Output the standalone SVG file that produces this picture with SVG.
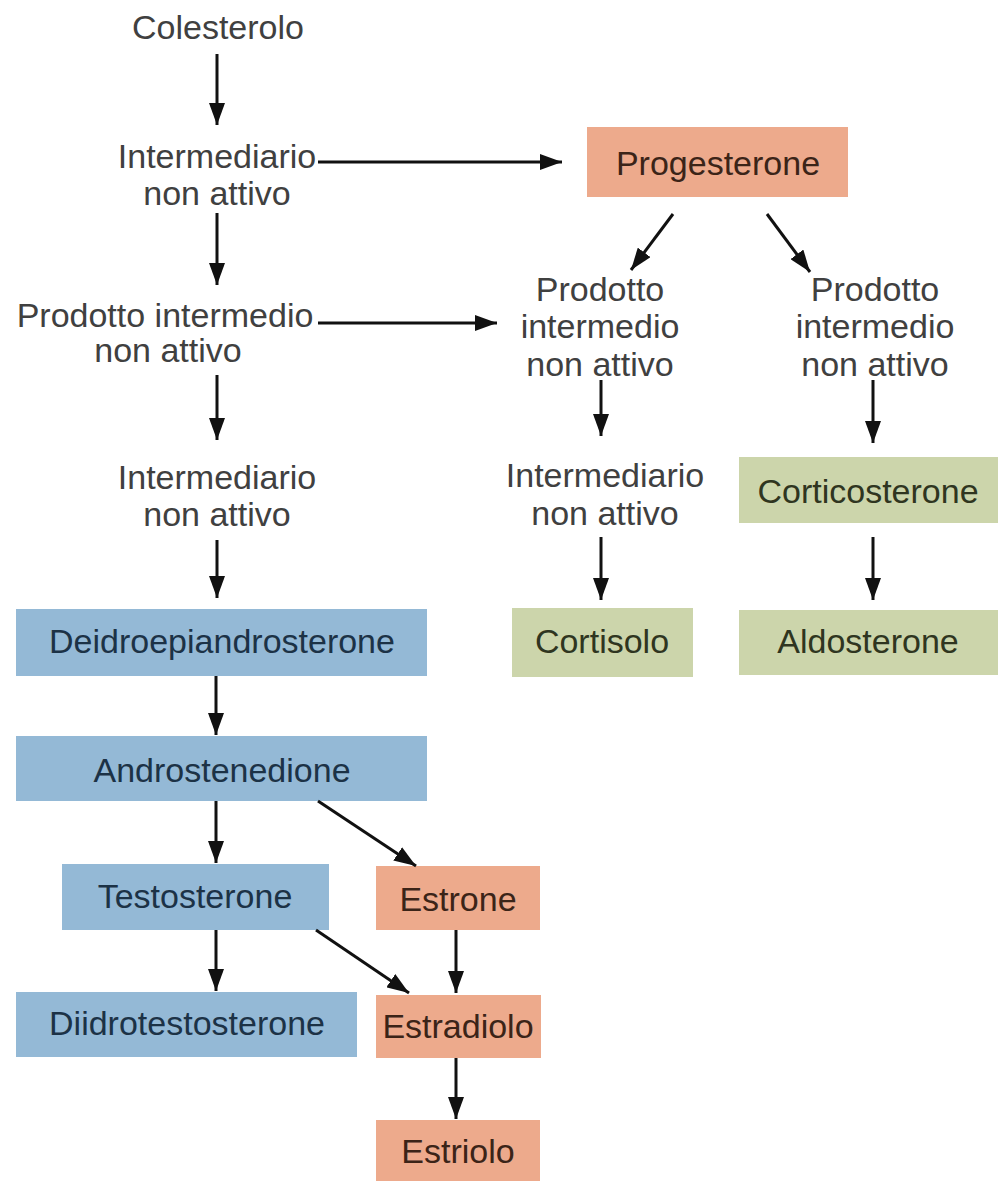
<svg xmlns="http://www.w3.org/2000/svg" width="998" height="1181" viewBox="0 0 998 1181">
<defs>
<marker id="ah" viewBox="0 0 22 16" refX="22" refY="8" markerWidth="22" markerHeight="16" markerUnits="userSpaceOnUse" orient="auto">
<path d="M0,0 L22,8 L0,16 z" fill="#111"/>
</marker>
<style>
text{font-family:"Liberation Sans",Arial,sans-serif;font-size:34px;text-anchor:middle}
.p{fill:#404040}
.o rect{fill:#EDAA8C}.o text{fill:#3b2418}
.b rect{fill:#94B9D6}.b text{fill:#1c3246}
.g rect{fill:#CCD5AB}.g text{fill:#2f3520}
.c line{stroke:#111;stroke-width:3;marker-end:url(#ah)}
</style>
</defs>
<rect width="998" height="1181" fill="#fff"/>
<g id="colesterolo"><text class="p" x="218" y="39">Colesterolo</text></g>
<g id="intermediario1"><text class="p" x="217" y="168">Intermediario</text><text class="p" x="217" y="205">non attivo</text></g>
<g id="prodotto1"><text class="p" x="165" y="327">Prodotto intermedio</text><text class="p" x="168" y="362">non attivo</text></g>
<g id="intermediario2"><text class="p" x="217" y="489">Intermediario</text><text class="p" x="217" y="526">non attivo</text></g>
<g id="progesterone" class="o"><rect x="587" y="127" width="261" height="70"/><text x="718" y="175">Progesterone</text></g>
<g id="prodotto2"><text class="p" x="600" y="301">Prodotto</text><text class="p" x="600" y="338">intermedio</text><text class="p" x="600" y="376">non attivo</text></g>
<g id="prodotto3"><text class="p" x="875" y="301">Prodotto</text><text class="p" x="875" y="338">intermedio</text><text class="p" x="875" y="376">non attivo</text></g>
<g id="intermediario3"><text class="p" x="605" y="487">Intermediario</text><text class="p" x="605" y="525">non attivo</text></g>
<g id="corticosterone" class="g"><rect x="739" y="457" width="259" height="66"/><text x="868" y="503">Corticosterone</text></g>
<g id="cortisolo" class="g"><rect x="512" y="608" width="181" height="69"/><text x="602" y="653">Cortisolo</text></g>
<g id="aldosterone" class="g"><rect x="739" y="610" width="259" height="65"/><text x="868" y="653">Aldosterone</text></g>
<g id="deidroepiandrosterone" class="b"><rect x="16" y="609" width="411" height="67"/><text x="222" y="653">Deidroepiandrosterone</text></g>
<g id="androstenedione" class="b"><rect x="16" y="736" width="411" height="65"/><text x="222" y="782">Androstenedione</text></g>
<g id="testosterone" class="b"><rect x="62" y="864" width="267" height="66"/><text x="195" y="908">Testosterone</text></g>
<g id="diidrotestosterone" class="b"><rect x="16" y="992" width="341" height="65"/><text x="187" y="1035">Diidrotestosterone</text></g>
<g id="estrone" class="o"><rect x="376" y="866" width="164" height="64"/><text x="458" y="911">Estrone</text></g>
<g id="estradiolo" class="o"><rect x="376" y="995" width="165" height="63"/><text x="458" y="1038">Estradiolo</text></g>
<g id="estriolo" class="o"><rect x="376" y="1120" width="164" height="61"/><text x="458" y="1163">Estriolo</text></g>
<g id="connectors" class="c">
<line x1="217" y1="54" x2="217" y2="125"/>
<line x1="318" y1="162" x2="562" y2="162"/>
<line x1="217" y1="213" x2="217" y2="285"/>
<line x1="318" y1="323" x2="497" y2="323"/>
<line x1="217" y1="375" x2="217" y2="440"/>
<line x1="217" y1="540" x2="217" y2="598"/>
<line x1="673" y1="214" x2="631" y2="270"/>
<line x1="767" y1="214" x2="810" y2="272"/>
<line x1="601" y1="380" x2="601" y2="436"/>
<line x1="873" y1="380" x2="873" y2="443"/>
<line x1="601" y1="537" x2="601" y2="600"/>
<line x1="873" y1="537" x2="873" y2="600"/>
<line x1="216" y1="676" x2="216" y2="735"/>
<line x1="216" y1="801" x2="216" y2="863"/>
<line x1="318" y1="801" x2="416" y2="866"/>
<line x1="216" y1="930" x2="216" y2="991"/>
<line x1="316" y1="930" x2="409" y2="993"/>
<line x1="456" y1="930" x2="456" y2="993"/>
<line x1="456" y1="1058" x2="456" y2="1119"/>
</g>
</svg>
